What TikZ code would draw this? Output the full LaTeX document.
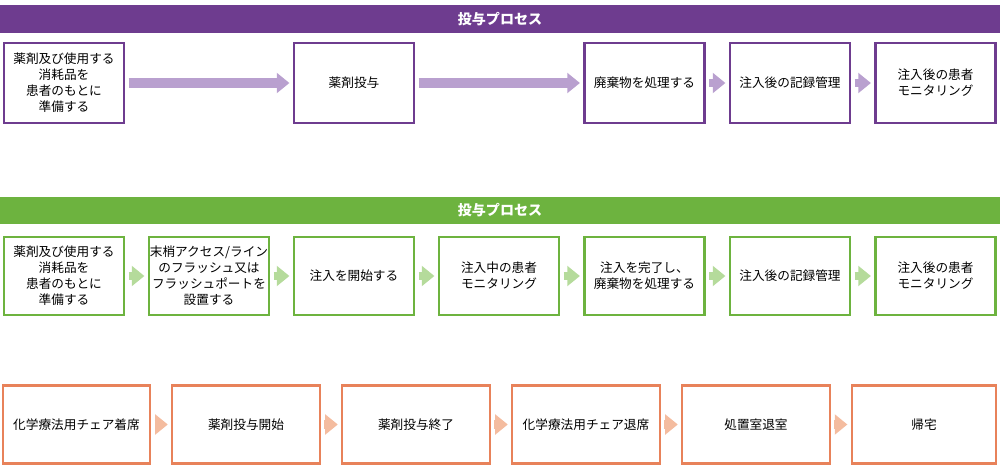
\documentclass[tikz,border=0pt]{standalone}
\usepackage{fontspec}
\newfontfamily\cjk{Noto Sans CJK JP}
\usetikzlibrary{arrows.meta}
\definecolor{pur}{HTML}{6E3C8F}
\definecolor{lpur}{HTML}{B9A0CF}
\definecolor{grn}{HTML}{6DB33F}
\definecolor{lgrn}{HTML}{B5DB9B}
\definecolor{org}{HTML}{E8825A}
\definecolor{lorg}{HTML}{F4BC9F}
\tikzset{
 x=0.025cm,y=-0.025cm,
 box/.style={draw,line width=1.5pt,fill=white,align=center,inner sep=0pt,font=\cjk\fontsize{9pt}{11.3pt}\selectfont},
 pb/.style={box,draw=pur,minimum width=3.0cm,minimum height=2.0cm},
 gb/.style={box,draw=grn,minimum width=3.0cm,minimum height=1.97cm},
 ob/.style={box,draw=org,minimum width=3.68cm,minimum height=1.95cm},
 bar/.style={inner sep=0pt,text=white,font=\cjk\bfseries\fontsize{10pt}{12pt}\selectfont,minimum width=25cm},
 arr/.style={line width=6pt,-{Triangle[width=14pt,length=9pt]},shorten <=2.5pt,shorten >=2.5pt},
}
\begin{document}
\begin{tikzpicture}
\useasboundingbox (0,0) rectangle (1000,467);
% purple
\node[bar,fill=pur,minimum height=0.7cm] (t1) at (500,19) {投与プロセス};
\node[pb] (p1) at (64,83) {薬剤及び使用する\\消耗品を\\患者のもとに\\準備する};
\node[pb] (p2) at (354,83) {薬剤投与};
\node[pb] (p3) at (644.5,83) {廃棄物を処理する};
\node[pb] (p4) at (790,83) {注入後の記録管理};
\node[pb] (p5) at (935.5,83) {注入後の患者\\モニタリング};
\foreach \a/\b in {p1/p2,p2/p3}
 \draw[arr,draw=lpur,line width=7pt] (\a) -- (\b);
\foreach \a/\b in {p3/p4,p4/p5}
 \draw[arr,draw=lpur] (\a) -- (\b);
% green
\node[bar,fill=grn,minimum height=0.68cm] (t2) at (500,210.5) {投与プロセス};
\node[gb] (g1) at (64,276) {薬剤及び使用する\\消耗品を\\患者のもとに\\準備する};
\node[gb] (g2) at (209,276) {末梢アクセス/ライン\\のフラッシュ又は\\フラッシュポートを\\設置する};
\node[gb] (g3) at (354,276) {注入を開始する};
\node[gb] (g4) at (499,276) {注入中の患者\\モニタリング};
\node[gb] (g5) at (644.5,276) {注入を完了し、\\廃棄物を処理する};
\node[gb] (g6) at (790,276) {注入後の記録管理};
\node[gb] (g7) at (935.5,276) {注入後の患者\\モニタリング};
\foreach \a/\b in {g1/g2,g2/g3,g3/g4,g4/g5,g5/g6,g6/g7}
 \draw[arr,draw=lgrn] (\a) -- (\b);
% orange
\node[ob] (o1) at (76.5,424.5) {化学療法用チェア着席};
\node[ob] (o2) at (246,424.5) {薬剤投与開始};
\node[ob] (o3) at (416,424.5) {薬剤投与終了};
\node[ob] (o4) at (586,424.5) {化学療法用チェア退席};
\node[ob] (o5) at (756,424.5) {処置室退室};
\node[ob,minimum width=3.6cm] (o6) at (924,424.5) {帰宅};
\foreach \a/\b in {o1/o2,o2/o3,o3/o4,o4/o5,o5/o6}
 \draw[arr,draw=lorg] (\a) -- (\b);
\end{tikzpicture}
\end{document}
